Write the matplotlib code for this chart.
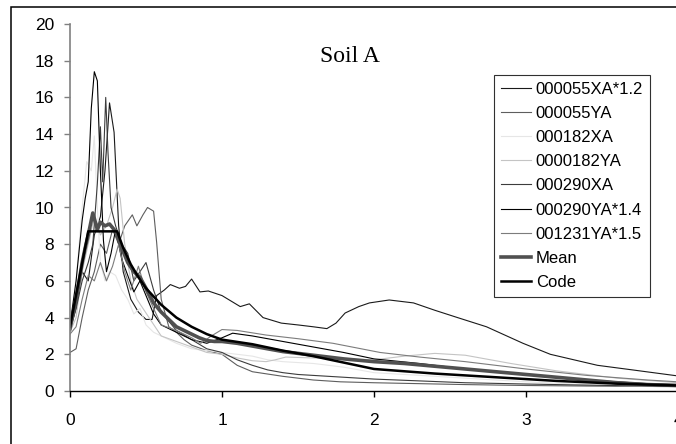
import matplotlib
matplotlib.use("Agg")
import matplotlib.pyplot as plt
from matplotlib.patches import Rectangle

# ---------------- data (period T [s], spectral acceleration) ----------------
T_055XA = [0, 0.04, 0.08, 0.12, 0.16, 0.2, 0.23, 0.26, 0.29, 0.32, 0.35, 0.4, 0.45, 0.5, 0.54, 0.57,
           0.62, 0.66, 0.72, 0.76, 0.8, 0.855, 0.91, 1.0, 1.12, 1.18, 1.27, 1.39, 1.5, 1.6, 1.69, 1.75,
           1.81, 1.9, 1.97, 2.1, 2.26, 2.4, 2.55, 2.74, 2.98, 3.16, 3.47, 3.7, 4.0]
Sa_055XA = [3.4, 4.5, 6.5, 6.0, 8.5, 9.5, 12.0, 15.7, 14.1, 9.0, 6.5, 5.0, 4.3, 3.9, 3.9, 5.2,
            5.5, 5.8, 5.6, 5.7, 6.1, 5.4, 5.45, 5.2, 4.6, 4.75, 4.0, 3.7, 3.6, 3.5, 3.4, 3.7,
            4.25, 4.6, 4.8, 4.96, 4.8, 4.4, 4.0, 3.5, 2.6, 2.0, 1.4, 1.15, 0.82]

T_055YA = [0, 0.04, 0.08, 0.12, 0.16, 0.2, 0.24, 0.28, 0.32, 0.36, 0.41, 0.44, 0.48, 0.51, 0.55, 0.57,
           0.6, 0.65, 0.7, 0.75, 0.8, 0.9, 1.0, 1.1, 1.2, 1.4, 1.6, 1.78, 2.0, 2.3, 2.6, 3.0, 3.4, 3.8, 4.0]
Sa_055YA = [2.1, 2.3, 4.0, 5.5, 6.5, 8.0, 7.5, 8.8, 8.0, 9.0, 9.6, 9.0, 9.6, 10.0, 9.8, 8.1,
            5.0, 3.5, 3.2, 2.8, 2.5, 2.2, 2.0, 1.4, 1.05, 0.8, 0.6, 0.5, 0.45, 0.4, 0.35, 0.3, 0.27, 0.25, 0.24]

T_182XA = [0, 0.04, 0.08, 0.11, 0.14, 0.16, 0.18, 0.2, 0.23, 0.26, 0.3, 0.34, 0.38, 0.42, 0.46, 0.5,
           0.55, 0.6, 0.7, 0.8, 0.9, 1.0, 1.1, 1.2, 1.3, 1.4, 1.6, 1.8, 2.0, 2.3, 2.6, 3.0, 3.4, 3.8, 4.0]
Sa_182XA = [3.0, 6.0, 10.0, 12.5, 12.0, 13.9, 10.0, 7.0, 6.0, 6.5, 6.3, 5.5, 5.0, 4.2, 4.5, 3.6,
            3.2, 3.0, 2.6, 2.3, 2.2, 2.1, 2.0, 1.9, 1.7, 1.6, 1.5, 1.3, 1.0, 0.85, 0.7, 0.5, 0.35, 0.25, 0.2]

T_182YA = [0, 0.04, 0.08, 0.12, 0.16, 0.2, 0.24, 0.28, 0.31, 0.33, 0.36, 0.4, 0.44, 0.48, 0.52, 0.56,
           0.6, 0.7, 0.8, 0.9, 1.0, 1.1, 1.2, 1.29, 1.35, 1.42, 1.6, 1.8, 2.0, 2.2, 2.4, 2.6, 2.9, 3.2, 3.6, 4.0]
Sa_182YA = [3.2, 4.0, 6.5, 8.0, 9.5, 8.5, 9.0, 10.0, 11.0, 10.5, 8.0, 6.0, 5.0, 4.5, 4.0, 3.5,
            3.0, 2.7, 2.4, 2.1, 2.0, 1.8, 1.65, 1.6, 1.7, 1.85, 1.8, 1.75, 1.7, 1.9, 2.05, 1.95, 1.5, 1.1, 0.7, 0.45]

T_290XA = [0, 0.04, 0.08, 0.12, 0.15, 0.18, 0.2, 0.215, 0.235, 0.25, 0.27, 0.3, 0.34, 0.38, 0.42, 0.46,
           0.5, 0.55, 0.6, 0.7, 0.8, 0.9, 1.0, 1.1, 1.2, 1.3, 1.4, 1.5, 1.7, 2.0, 2.3, 2.6, 3.0, 3.4, 3.8, 4.0]
Sa_290XA = [3.3, 4.5, 6.0, 7.0, 8.0, 11.3, 14.4, 11.4, 16.0, 13.0, 10.0, 9.0, 8.0, 7.5, 6.0, 6.5,
            7.0, 5.5, 4.3, 3.3, 2.8, 2.3, 2.1, 1.7, 1.4, 1.15, 1.0, 0.9, 0.8, 0.65, 0.55, 0.45, 0.38, 0.32, 0.27, 0.25]

T_290YA = [0, 0.04, 0.08, 0.1, 0.12, 0.14, 0.16, 0.18, 0.2, 0.22, 0.24, 0.27, 0.3, 0.34, 0.38, 0.42,
           0.46, 0.5, 0.55, 0.6, 0.7, 0.8, 0.9, 1.0, 1.07, 1.2, 1.4, 1.6, 1.8, 2.0, 2.3, 2.6, 3.0, 3.4, 3.8, 4.0]
Sa_290YA = [3.6, 6.0, 9.3, 10.5, 11.4, 15.4, 17.4, 16.9, 12.0, 8.2, 6.5, 7.5, 8.8, 7.2, 6.3, 5.4,
            6.0, 5.2, 4.2, 3.6, 3.2, 2.8, 2.6, 2.9, 3.15, 3.0, 2.7, 2.4, 2.1, 1.75, 1.5, 1.2, 0.9, 0.6, 0.4, 0.35]

T_1231YA = [0, 0.04, 0.08, 0.12, 0.16, 0.2, 0.24, 0.28, 0.32, 0.36, 0.4, 0.45, 0.5, 0.55, 0.6, 0.7,
            0.8, 0.86, 0.93, 1.0, 1.1, 1.29, 1.5, 1.73, 2.04, 2.3, 2.6, 3.0, 3.4, 3.8, 4.0]
Sa_1231YA = [3.1, 3.5, 5.0, 6.3, 6.0, 7.0, 6.0, 6.8, 8.0, 6.5, 5.5, 6.8, 5.4, 4.5, 3.6, 3.3,
             2.9, 2.6, 3.0, 3.35, 3.3, 3.05, 2.85, 2.6, 2.1, 1.85, 1.6, 1.2, 0.85, 0.6, 0.5]

T_mean = [0, 0.04, 0.08, 0.1, 0.12, 0.15, 0.18, 0.2, 0.23, 0.26, 0.3, 0.34, 0.38, 0.42, 0.46, 0.5,
          0.55, 0.6, 0.65, 0.7, 0.75, 0.8, 0.85, 0.9, 0.95, 1.0, 1.1, 1.2, 1.4, 1.6, 1.8, 2.0, 2.2,
          2.4, 2.6, 2.8, 3.0, 3.2, 3.4, 3.6, 3.8, 4.0]
Sa_mean = [3.4, 5.0, 7.0, 7.8, 8.5, 9.7, 8.8, 9.2, 9.0, 9.1, 8.7, 7.8, 7.0, 6.5, 6.2, 5.6,
           4.8, 4.3, 3.9, 3.5, 3.3, 3.1, 2.9, 2.75, 2.7, 2.7, 2.6, 2.45, 2.15, 1.95, 1.75, 1.6, 1.5,
           1.35, 1.2, 1.05, 0.9, 0.75, 0.6, 0.45, 0.35, 0.3]

T_code = [0, 0.12, 0.31, 0.35, 0.4, 0.45, 0.5, 0.6, 0.7, 0.8, 0.9, 1.0, 1.2, 1.4, 1.6, 1.8, 2.0,
          2.4, 2.8, 3.2, 3.6, 4.0]
Sa_code = [3.5, 8.7, 8.7, 7.8, 6.9, 6.2, 5.6, 4.7, 4.0, 3.5, 3.1, 2.8, 2.55, 2.2, 1.9, 1.55, 1.2,
           0.95, 0.75, 0.55, 0.4, 0.3]

labels = ["000055XA*1.2", "000055YA", "000182XA", "0000182YA", "000290XA",
          "000290YA*1.4", "001231YA*1.5", "Mean", "Code"]
x_ticks = [0, 1, 2, 3, 4]
y_ticks = [0, 2, 4, 6, 8, 10, 12, 14, 16, 18, 20]
title_text = "Soil A"

# ---------------- figure ----------------
W, H = 676, 444
fig = plt.figure(figsize=(W / 100, H / 100), dpi=100)
plt.rcParams['font.family'] = ['Liberation Sans', 'DejaVu Sans']

ax = fig.add_axes([70 / W, (H - 391) / H, (678 - 70) / W, (391 - 24) / H])

thin = 0.8
series = [
    (T_055XA, Sa_055XA, "#1a1a1a", thin),
    (T_055YA, Sa_055YA, "#5e5e5e", thin),
    (T_182XA, Sa_182XA, "#e6e6e6", thin),
    (T_182YA, Sa_182YA, "#c4c4c4", thin),
    (T_290XA, Sa_290XA, "#3c3c3c", thin),
    (T_290YA, Sa_290YA, "#000000", thin),
    (T_1231YA, Sa_1231YA, "#7c7c7c", thin),
    (T_mean, Sa_mean, "#505050", 2.6),
    (T_code, Sa_code, "#000000", 1.8),
]
for (t, s, c, lw), lab in zip(series, labels):
    ax.plot(t, s, color=c, lw=lw, label=lab, solid_joinstyle='round')

ax.set_xlim(0, 4)
ax.set_ylim(0, 20)
ax.set_xticks(x_ticks)
ax.set_xticklabels([str(v) for v in x_ticks])
ax.set_yticks(y_ticks)
ax.set_yticklabels([str(v) for v in y_ticks])

for side in ("top", "right"):
    ax.spines[side].set_visible(False)
ax.spines["left"].set_color("#808080")
ax.spines["left"].set_linewidth(1.2)
ax.spines["bottom"].set_color("#000000")
ax.spines["bottom"].set_linewidth(1.0)
ax.tick_params(axis="y", direction="out", length=4.5, width=1, color="#808080",
               labelsize=12.5, pad=7)
ax.tick_params(axis="x", direction="out", length=4.5, width=1, color="#000000",
               labelsize=12.5, pad=11)

fig.text(350 / W, 1 - 57 / H, title_text, family=["Liberation Serif", "DejaVu Serif"],
         fontsize=17, ha="center", va="center")

leg = ax.legend(loc="upper left", bbox_to_anchor=(494 / W, 1 - 75 / H),
                bbox_transform=fig.transFigure, fontsize=12, frameon=True,
                fancybox=False, edgecolor="#303030", framealpha=1,
                handlelength=1.8, handletextpad=0.3, labelspacing=0.55,
                borderpad=0.4, borderaxespad=0)
leg.get_frame().set_linewidth(0.8)

# outer chart border
fig.patches.append(Rectangle((11 / W, -0.1), 1.2, 1.1 - 7 / H, transform=fig.transFigure,
                             fill=False, edgecolor="black", linewidth=1.1, figure=fig))

fig.savefig("out.png", dpi=100)
